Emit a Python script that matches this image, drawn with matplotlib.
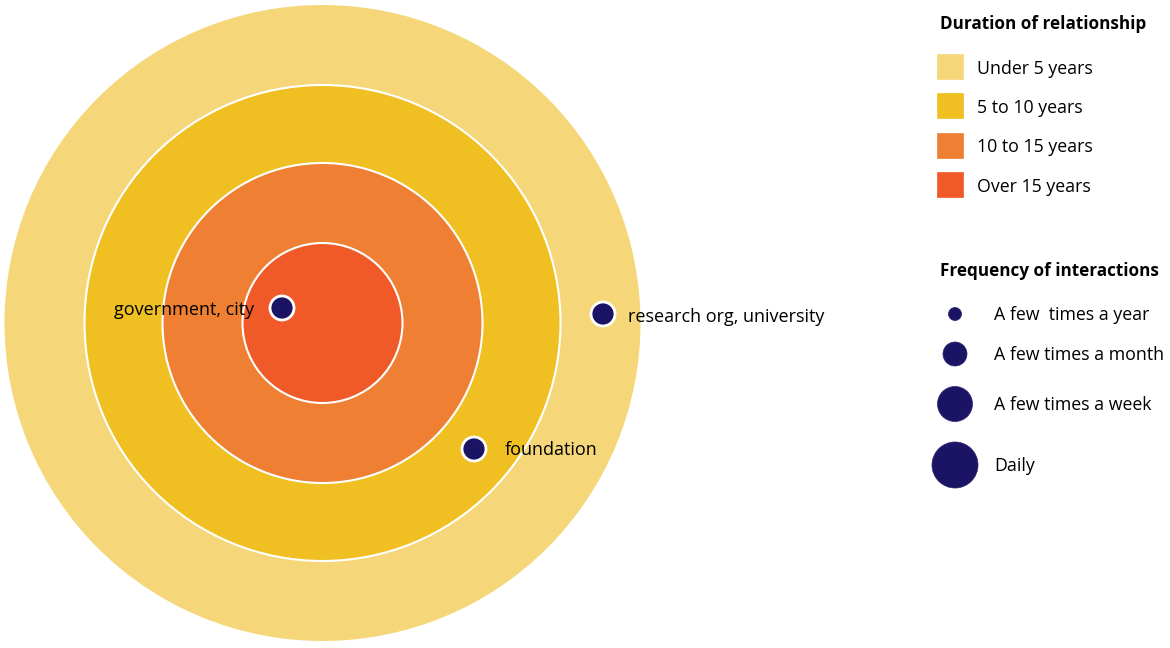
import matplotlib
matplotlib.use('Agg')
from matplotlib import pyplot as plt
from matplotlib.patches import Circle, Rectangle

plt.rcParams['font.family'] = ['Open Sans', 'DejaVu Sans']

# duration rings, outer to inner
ring_labels = ['Under 5 years', '5 to 10 years', '10 to 15 years', 'Over 15 years']
ring_colors = ['#F5D77A', '#F0C022', '#EE7F33', '#F05A28']
ring_radius = [318, 238, 160, 80]

# organisations (pixel position in the diagram, frequency level)
org_names = ['government, city', 'research org, university', 'foundation']
org_x = [282, 603, 474]
org_y = [308, 314, 449]
org_freq = [1, 1, 1]

freq_labels = ['A few  times a year', 'A few times a month', 'A few times a week', 'Daily']
freq_radius = [6.5, 12, 17.5, 23]

NAVY = '#1B1464'
CX, CY = 322.5, 323

fig = plt.figure(figsize=(11.7, 6.48), dpi=100)
ax = fig.add_axes([0, 0, 1, 1])
ax.set_xlim(0, 1170)
ax.set_ylim(648, 0)
ax.set_aspect('equal')
ax.axis('off')

for i, (r, c) in enumerate(zip(ring_radius, ring_colors)):
    ax.add_patch(Circle((CX, CY), r, facecolor=c,
                        edgecolor='white' if i else 'none', linewidth=1.5, zorder=1 + i))

for name, x, y, f in zip(org_names, org_x, org_y, org_freq):
    ax.add_patch(Circle((x, y), freq_radius[f], facecolor=NAVY,
                        edgecolor='white', linewidth=2, zorder=10))
ax.text(254, 310, org_names[0], ha='right', va='center', fontsize=13, zorder=11)
ax.text(628, 317, org_names[1], ha='left', va='center', fontsize=13, zorder=11)
ax.text(505, 450, org_names[2], ha='left', va='center', fontsize=13, zorder=11)

# legend: duration
ax.text(940, 24, 'Duration of relationship', fontsize=12.3, fontweight='bold', va='center')
for i, (lab, c) in enumerate(zip(ring_labels, ring_colors)):
    y = 66 + i * 39.5
    ax.add_patch(Rectangle((937, y - 12.5), 26, 25, facecolor=c, edgecolor=c, linewidth=0.5))
    ax.text(977, y + 2.5, lab, fontsize=12.8, va='center')

# legend: frequency
ax.text(940, 271, 'Frequency of interactions', fontsize=12.3, fontweight='bold', va='center')
for lab, r, y in zip(freq_labels, freq_radius, [314, 354, 404, 465]):
    ax.add_patch(Circle((955, y), r, facecolor=NAVY, edgecolor='#2a2370', linewidth=0.5))
    ax.text(994, y + 1, lab, fontsize=12.8, va='center')

fig.savefig('out.png', dpi=100, facecolor='white')
